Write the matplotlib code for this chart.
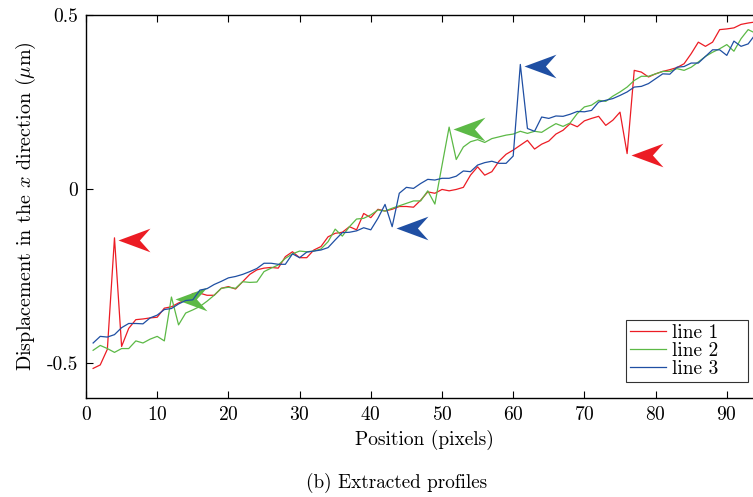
import numpy as np
import matplotlib
matplotlib.use("Agg")
import matplotlib.pyplot as plt
from matplotlib.path import Path

plt.rcParams["font.family"] = "serif"
plt.rcParams["font.serif"] = ["cmr10", "DejaVu Serif"]
plt.rcParams["mathtext.fontset"] = "cm"
plt.rcParams["axes.formatter.use_mathtext"] = True

# ── Data ──────────────────────────────────────────────────────────────────────

position = list(range(1, 95))

line1 = [
    -0.515, -0.505, -0.46, -0.14, -0.452, -0.40, -0.375, -0.373, -0.37, -0.368,
    -0.342, -0.338, -0.327, -0.318, -0.30, -0.299, -0.305, -0.305, -0.285, -0.28,
    -0.287, -0.266, -0.245, -0.232, -0.227, -0.225, -0.227, -0.194, -0.18, -0.197,
    -0.197, -0.175, -0.165, -0.137, -0.127, -0.124, -0.108, -0.117, -0.07, -0.082,
    -0.058, -0.063, -0.058, -0.05, -0.05, -0.052, -0.032, -0.008, -0.012, -0.001,
    -0.005, -0.001, 0.005, 0.04, 0.064, 0.04, 0.05, 0.08, 0.10, 0.112,
    0.126, 0.14, 0.115, 0.129, 0.138, 0.158, 0.169, 0.188, 0.179, 0.196,
    0.203, 0.209, 0.183, 0.198, 0.221, 0.102, 0.341, 0.336, 0.322, 0.331,
    0.338, 0.343, 0.349, 0.36, 0.389, 0.422, 0.41, 0.422, 0.458, 0.46,
    0.463, 0.473, 0.477, 0.48,
]

line2 = [
    -0.463, -0.449, -0.458, -0.469, -0.458, -0.458, -0.436, -0.442, -0.431, -0.423,
    -0.436, -0.31, -0.39, -0.356, -0.347, -0.337, -0.322, -0.305, -0.285, -0.282,
    -0.285, -0.266, -0.268, -0.267, -0.237, -0.227, -0.218, -0.199, -0.186, -0.178,
    -0.18, -0.178, -0.172, -0.151, -0.115, -0.135, -0.108, -0.086, -0.084, -0.074,
    -0.06, -0.063, -0.055, -0.048, -0.041, -0.034, -0.034, -0.005, -0.043, 0.068,
    0.178, 0.085, 0.121, 0.136, 0.142, 0.134, 0.145, 0.15, 0.155, 0.158,
    0.166, 0.16, 0.166, 0.163, 0.176, 0.188, 0.18, 0.19, 0.217, 0.236,
    0.241, 0.255, 0.252, 0.267, 0.279, 0.293, 0.312, 0.324, 0.324, 0.331,
    0.338, 0.338, 0.346, 0.341, 0.35, 0.365, 0.381, 0.393, 0.403, 0.415,
    0.396, 0.432, 0.458, 0.448,
]

line3 = [
    -0.442, -0.423, -0.425, -0.418, -0.398, -0.386, -0.386, -0.387, -0.37, -0.362,
    -0.346, -0.343, -0.33, -0.32, -0.318, -0.29, -0.286, -0.274, -0.265, -0.255,
    -0.251, -0.245, -0.237, -0.228, -0.213, -0.213, -0.216, -0.216, -0.186, -0.197,
    -0.181, -0.178, -0.175, -0.168, -0.146, -0.125, -0.124, -0.12, -0.111, -0.117,
    -0.084, -0.044, -0.108, -0.012, 0.005, 0.002, 0.016, 0.028, 0.026, 0.031,
    0.031, 0.037, 0.052, 0.05, 0.069, 0.076, 0.08, 0.074, 0.074, 0.095,
    0.358, 0.174, 0.166, 0.207, 0.203, 0.21, 0.209, 0.215, 0.223, 0.222,
    0.226, 0.25, 0.255, 0.26, 0.269, 0.279, 0.293, 0.295, 0.303, 0.317,
    0.331, 0.33, 0.35, 0.352, 0.362, 0.362, 0.381, 0.40, 0.40, 0.384,
    0.425, 0.41, 0.417, 0.444,
]

# positions (pixels) of the outliers marked with an arrow, per line
outliers1 = [4, 76]
outliers2 = [12, 51]
outliers3 = [43, 61]

labels = ["line 1", "line 2", "line 3"]
colors = ["#ec1c24", "#5cb946", "#1f4fa3"]

x_ticks = [0, 10, 20, 30, 40, 50, 60, 70, 80, 90]
y_ticks = [-0.5, 0, 0.5]
y_tick_labels = ["-0.5", "0", "0.5"]

# ── Figure ────────────────────────────────────────────────────────────────────

fig = plt.figure(figsize=(7.53, 4.97), dpi=100)
ax = fig.add_axes([86 / 753, 99 / 497, 95 * 7.12 / 753, 383 / 497])

# left-pointing chevron arrow, tip at the marker origin
arrow = Path(
    [(0, 0), (1, 0.37), (0.67, 0), (1, -0.37), (0, 0)],
    [Path.MOVETO, Path.LINETO, Path.LINETO, Path.LINETO, Path.CLOSEPOLY],
)

series = [line1, line2, line3]
outliers = [outliers1, outliers2, outliers3]
for ys, lab, col, outs in zip(series, labels, colors, outliers):
    # trailing spaces give the wide right margin of the original legend box
    ax.plot(position, ys, color=col, linewidth=0.9, label=lab + "    ")
    ax_x = [p + 0.55 for p in outs]
    ax_y = [ys[position.index(p)] - 0.005 for p in outs]
    ax.plot(ax_x, ax_y, linestyle="none", marker=arrow, markersize=46,
            color=col, markeredgewidth=0)

ax.set_xlim(0, 95)
ax.set_ylim(-0.6, 0.5)
ax.set_xticks(x_ticks)
ax.set_yticks(y_ticks)
ax.set_yticklabels(y_tick_labels)
ax.tick_params(direction="in", length=5, width=0.8, top=True, right=True,
               labelsize=14, pad=6)
for s in ax.spines.values():
    s.set_linewidth(1.0)

ax.set_xlabel("Position (pixels)", fontsize=14, labelpad=4)
ax.set_ylabel(r"Displacement in the $x$ direction ($\mu$m)", fontsize=14.5,
              labelpad=6)

leg = ax.legend(loc="lower right", bbox_to_anchor=(0.979, 0.042),
                borderaxespad=0, fancybox=False, edgecolor="black",
                fontsize=14, handlelength=1.85, handletextpad=0.3,
                labelspacing=0.0, borderpad=0.2)
leg.get_frame().set_linewidth(0.8)

fig.text(397 / 753, 1 - 483 / 497, "(b) Extracted profiles", fontsize=13.8,
         ha="center", va="center")

fig.savefig("out.png", dpi=100)
